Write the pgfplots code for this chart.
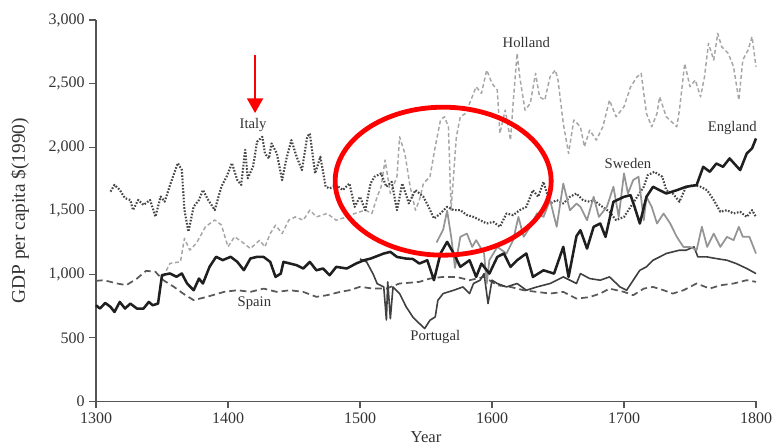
\documentclass[border=0pt]{standalone}
\usepackage{pgfplots}
\pgfplotsset{compat=1.18}
\usepackage{pgfplotstable}
\usepackage{fontspec}
\setmainfont{Liberation Serif}
\usetikzlibrary{arrows.meta}

\definecolor{txt}{HTML}{333333}
\definecolor{axisgray}{HTML}{555555}

\pgfplotstableread{
year gdp
1300 756
1303 730
1307 774
1311 743
1314 703
1318 782
1322 730
1326 769
1331 730
1336 730
1340 782
1343 756
1347 769
1350 993
1356 1006
1361 980
1365 1006
1369 927
1374 874
1378 966
1381 927
1386 1058
1391 1137
1396 1111
1402 1137
1407 1098
1412 1032
1417 1124
1422 1137
1427 1136
1432 1097
1436 979
1440 1005
1442 1097
1452 1071
1457 1045
1462 1097
1467 1031
1472 1045
1477 992
1482 1058
1490 1045
1497 1084
1503 1110
1508 1123
1518 1163
1523 1176
1528 1136
1535 1123
1540 1120
1545 1084
1551 1110
1556 953
1561 1163
1566 1255
1571 1163
1576 1058
1583 1110
1588 979
1592 1084
1598 1005
1604 1136
1609 1163
1614 1058
1619 1110
1626 1163
1631 979
1639 1031
1647 1005
1654 1215
1658 979
1664 1300
1667 1346
1672 1202
1677 1373
1682 1399
1686 1294
1692 1570
1700 1609
1705 1622
1708 1530
1712 1399
1717 1609
1722 1688
1727 1661
1732 1635
1740 1661
1747 1688
1755 1701
1760 1845
1765 1806
1770 1871
1775 1845
1780 1911
1788 1819
1793 1950
1797 1990
1800 2068
}\england

\pgfplotstableread{
year gdp
1311 1650
1314 1703
1318 1663
1322 1598
1326 1584
1328 1505
1332 1584
1336 1545
1341 1584
1345 1453
1349 1611
1352 1571
1357 1729
1362 1874
1365 1821
1367 1505
1370 1335
1374 1532
1378 1584
1381 1663
1385 1584
1390 1505
1395 1690
1399 1769
1403 1874
1407 1742
1410 1703
1413 1979
1415 1755
1419 1847
1422 2042
1426 2081
1428 1950
1431 1911
1433 2029
1437 1950
1441 1740
1444 1898
1448 2055
1452 1924
1456 1819
1460 2081
1462 2107
1466 1793
1470 1924
1474 1688
1477 1675
1482 1701
1487 1662
1492 1714
1496 1530
1500 1609
1504 1504
1508 1714
1511 1767
1516 1793
1520 1688
1524 1727
1528 1504
1532 1714
1537 1557
1542 1662
1548 1609
1552 1530
1556 1438
1561 1478
1566 1530
1571 1504
1576 1504
1581 1465
1586 1451
1591 1425
1596 1399
1601 1412
1606 1373
1611 1478
1616 1465
1621 1504
1626 1530
1631 1661
1635 1609
1639 1727
1644 1556
1649 1583
1654 1556
1659 1609
1664 1635
1669 1583
1674 1570
1677 1583
1682 1543
1689 1491
1694 1425
1700 1451
1705 1530
1710 1609
1715 1688
1718 1780
1723 1806
1729 1767
1732 1661
1737 1635
1742 1570
1747 1688
1753 1701
1758 1688
1763 1661
1768 1583
1773 1491
1778 1504
1783 1478
1788 1491
1793 1451
1797 1504
1800 1451
}\italy

\pgfplotstableread{
year gdp
1300 948
1306 953
1316 927
1323 914
1331 966
1338 1027
1345 1019
1351 953
1359 901
1366 848
1374 796
1384 822
1397 861
1407 874
1417 861
1427 887
1437 861
1447 874
1457 861
1467 822
1475 835
1485 861
1492 874
1500 901
1510 887
1520 887
1530 927
1540 935
1545 940
1553 966
1563 979
1573 979
1583 953
1594 979
1604 913
1614 900
1624 874
1634 861
1644 848
1654 861
1664 808
1674 820
1682 848
1689 887
1700 861
1707 835
1715 887
1722 900
1730 874
1737 848
1745 874
1755 927
1765 887
1773 913
1783 927
1793 953
1800 940
}\spain

\pgfplotstableread{
year gdp
1351 980
1356 1085
1364 1098
1367 1282
1371 1190
1376 1243
1383 1374
1390 1427
1395 1387
1400 1216
1405 1295
1412 1243
1417 1202
1424 1268
1428 1215
1432 1320
1436 1386
1441 1320
1446 1425
1451 1451
1457 1425
1462 1504
1467 1451
1475 1478
1482 1425
1490 1451
1496 1478
1504 1504
1509 1478
1513 1609
1516 1688
1519 1898
1523 1635
1528 1767
1530 2081
1534 1950
1538 1688
1542 1504
1545 1583
1548 1714
1553 1767
1557 2003
1561 2213
1564 2239
1567 2160
1569 1504
1573 2081
1576 2239
1580 2265
1585 2396
1588 2475
1592 2423
1596 2606
1600 2501
1604 2449
1606 2108
1610 2291
1614 2055
1616 2344
1619 2737
1621 2554
1625 2291
1629 2344
1633 2580
1636 2396
1640 2370
1644 2554
1648 2606
1650 2528
1654 2186
1658 1950
1662 2213
1667 2160
1670 2003
1674 2134
1679 2055
1684 2160
1689 2370
1694 2239
1700 2318
1705 2475
1710 2554
1713 2580
1717 2265
1721 2160
1725 2265
1727 2396
1732 2239
1740 2160
1742 2291
1746 2658
1750 2475
1754 2528
1758 2396
1761 2554
1764 2816
1768 2685
1771 2895
1774 2790
1779 2737
1783 2632
1787 2370
1790 2685
1794 2764
1797 2869
1800 2632
}\holland

\pgfplotstableread{
year gdp
1558 1250
1563 1350
1566 1500
1569 1300
1572 1050
1576 1294
1581 1320
1585 1215
1588 1268
1594 1163
1596 927
1598 1110
1604 1215
1611 1163
1616 1268
1620 1451
1624 1294
1629 1373
1634 1478
1639 1451
1644 1583
1649 1373
1654 1714
1659 1504
1664 1556
1667 1530
1672 1425
1677 1609
1681 1451
1687 1530
1692 1688
1696 1451
1700 1793
1703 1635
1707 1741
1711 1767
1715 1425
1717 1609
1721 1530
1725 1399
1730 1478
1735 1399
1740 1294
1745 1215
1750 1215
1755 1189
1759 1373
1763 1215
1768 1320
1773 1215
1778 1294
1783 1268
1787 1373
1790 1294
1795 1294
1800 1163
}\sweden

\pgfplotstableread{
year gdp
1500 1120
1505 1097
1510 1000
1513 926
1518 900
1520 640
1521 940
1523 650
1525 900
1530 848
1535 743
1540 664
1545 612
1549 573
1553 638
1557 664
1559 795
1563 848
1571 874
1578 900
1583 848
1586 927
1591 953
1594 1005
1597 769
1600 953
1604 927
1611 900
1619 927
1626 874
1634 900
1644 927
1654 979
1664 927
1667 1005
1674 966
1682 953
1689 979
1697 900
1702 874
1707 953
1712 1031
1717 1058
1722 1110
1727 1136
1732 1163
1737 1176
1742 1189
1747 1189
1753 1215
1756 1136
1763 1136
1770 1123
1778 1110
1785 1084
1793 1045
1800 1005
}\portugal

\begin{document}
\begin{tikzpicture}
\begin{axis}[
  at={(0,0)}, anchor=south west,
  scale only axis,
  width=495pt, height=286pt,
  xmin=1300, xmax=1800,
  ymin=0, ymax=3000,
  xtick={1300,1400,...,1800},
  ytick={0,500,...,3000},
  axis lines=left,
  axis line style={-, axisgray, line width=0.8pt},
  tick style={axisgray, line width=0.8pt},
  tick align=outside,
  major tick length=5pt,
  ticklabel style={font=\fontsize{12}{14}\selectfont, text=txt},
  /pgf/number format/assume math mode=true,
  /pgf/number format/1000 sep={,},
  x tick label style={/pgf/number format/1000 sep={}},
  xlabel={Year},
  ylabel={GDP per capita \$(1990)},
  xlabel style={at={([yshift=-27pt]axis description cs:0.5,0)}, anchor=center, font=\fontsize{12.5}{14}\selectfont, text=txt},
  ylabel style={at={([xshift=-57pt]axis description cs:0,0.5)}, anchor=center, font=\fontsize{14.5}{16}\selectfont, text=txt},
  every axis plot/.append style={line join=round},
  clip=false,
]
\addplot[color=black!35, line width=1.1pt, dash pattern=on 3pt off 2pt] table[x=year, y=gdp] {\holland};
\addplot[color=black!72, line width=1.6pt, dash pattern=on 1.2pt off 1.2pt] table[x=year, y=gdp] {\italy};
\addplot[color=black!65, line width=1.3pt, dash pattern=on 5pt off 3pt] table[x=year, y=gdp] {\spain};
\addplot[color=black!75, line width=1.2pt] table[x=year, y=gdp] {\portugal};
\addplot[color=black!42, line width=1.3pt] table[x=year, y=gdp] {\sweden};
\addplot[color=black!88, line width=1.9pt] table[x=year, y=gdp] {\england};

\node[font=\fontsize{11}{13}\selectfont, text=txt] at (axis cs:1419,2173) {Italy};
\node[font=\fontsize{11}{13}\selectfont, text=txt] at (axis cs:1626,2827) {Holland};
\node[font=\fontsize{11}{13}\selectfont, text=txt] at (axis cs:1782,2150) {England};
\node[font=\fontsize{11}{13}\selectfont, text=txt] at (axis cs:1703,1874) {Sweden};
\node[font=\fontsize{11}{13}\selectfont, text=txt] at (axis cs:1420,772) {Spain};
\node[font=\fontsize{11}{13}\selectfont, text=txt] at (axis cs:1557,504) {Portugal};

\draw[red, line width=1.5pt, -{Triangle[width=12pt,length=11pt]}] (axis cs:1420.5,2724) -- (axis cs:1420.5,2268);
\draw[red, line width=3.6pt] (axis cs:1563,1732) ellipse [x radius=81pt, y radius=55.5pt];
\end{axis}
\pgfresetboundingbox
\path (-72pt,-34.5pt) rectangle (508.5pt,301pt);
\end{tikzpicture}
\end{document}
